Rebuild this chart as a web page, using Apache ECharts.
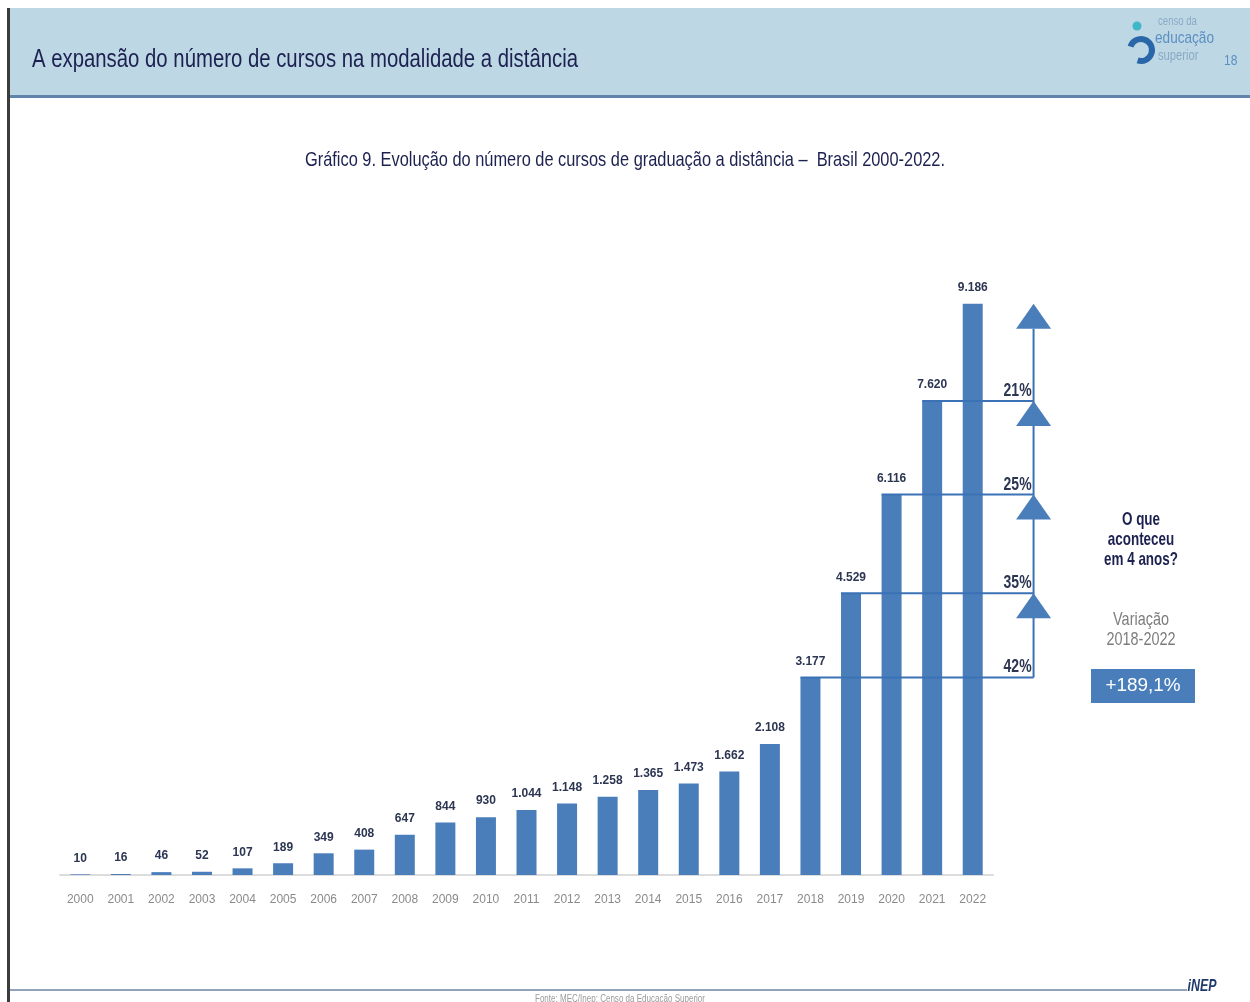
<!DOCTYPE html>
<html>
<head>
<meta charset="utf-8">
<script src="https://cdn.jsdelivr.net/npm/echarts@6/dist/echarts.min.js"></script>
<style>
html,body{margin:0;padding:0;background:#fff;}
#c{width:1250px;height:1002px;}
</style>
</head>
<body>
<div id="c"></div>
<script>
const years = ['2000','2001','2002','2003','2004','2005','2006','2007','2008','2009','2010','2011','2012','2013','2014','2015','2016','2017','2018','2019','2020','2021','2022'];
const courses = [10,16,46,52,107,189,349,408,647,844,930,1044,1148,1258,1365,1473,1662,2108,3177,4529,6116,7620,9186];
const growthStartIndex = 18;
const growthLabels = ['42%','35%','25%','21%'];
const headerTitle = 'A expansão do número de cursos na modalidade a distância';
const chartTitle = 'Gráfico 9. Evolução do número de cursos de graduação a distância –  Brasil 2000-2022.';
const sideQuestion = 'O que\naconteceu\nem 4 anos?';
const sideVariation = 'Variação\n2018-2022';
const sideValue = '+189,1%';
const sourceText = 'Fonte: MEC/Inep; Censo da Educação Superior';

const SANS = "'Liberation Sans',Arial,sans-serif";
const BLUE = '#4a7ebb';
const LINEBLUE = '#3b72b6';
const NAVY = '#1c2150';
const fmt = v => String(v).replace(/\B(?=(\d{3})+(?!\d))/g, '.');

// measure helper to emulate the condensed face of the original
const mctx = document.createElement('canvas').getContext('2d');
function squeeze(text, font, target) {
  mctx.font = font;
  return target / mctx.measureText(text).width;
}

const chart = echarts.init(document.getElementById('c'), null, {renderer: 'canvas'});

const fHead = '26px ' + SANS;
const fTitle = '21px ' + SANS;
const fQ = 'bold 19px ' + SANS;
const fVar = '19px ' + SANS;
const fPct = 'bold 18px ' + SANS;
const fVal = '19px ' + SANS;
const fInep = 'italic bold 17px ' + SANS;
const fSrc = '10px ' + SANS;

const staticGraphics = [
  {type:'rect', shape:{x:8, y:8, width:1242, height:88}, style:{fill:'#bdd7e5'}, z:0},
  {type:'rect', shape:{x:8, y:95, width:1242, height:3}, style:{fill:'#5f83aa'}, z:1},
  {type:'rect', shape:{x:7, y:8, width:3, height:994}, style:{fill:'#3c3c3c'}, z:2},
  {type:'text', x:32, y:60, scaleX:squeeze(headerTitle, fHead, 546), style:{text:headerTitle, font:fHead, fill:NAVY, textVerticalAlign:'middle'}, z:3},
  // logo
  {type:'circle', shape:{cx:1137, cy:26, r:4.5}, style:{fill:'#3fb7c6'}, z:3},
  {type:'arc', shape:{cx:1141, cy:50, r:11, startAngle:-Math.PI*0.9, endAngle:Math.PI*0.6}, style:{stroke:'#2a67a8', lineWidth:6, fill:null}, z:3},
  {type:'text', x:1158, y:22, scaleX:0.8, style:{text:'censo da', font:'12px ' + SANS, fill:'#8aa9c4', textVerticalAlign:'middle'}, z:3},
  {type:'text', x:1155, y:38, scaleX:0.8, style:{text:'educação', font:'17px ' + SANS, fill:'#5d8fc2', textVerticalAlign:'middle'}, z:3},
  {type:'text', x:1158, y:56, scaleX:0.8, style:{text:'superior', font:'14px ' + SANS, fill:'#8aa9c4', textVerticalAlign:'middle'}, z:3},
  {type:'text', x:1224, y:61, scaleX:0.8, style:{text:'18', font:'15px ' + SANS, fill:'#5d8fc2', textVerticalAlign:'middle'}, z:3},
  // chart title
  {type:'text', x:625, y:160, scaleX:squeeze(chartTitle, fTitle, 640), style:{text:chartTitle, font:fTitle, fill:NAVY, textAlign:'center', textVerticalAlign:'middle'}, z:3},
  // right text block
  {type:'text', x:1141, y:540, scaleX:squeeze('em 4 anos?', fQ, 74), style:{text:sideQuestion, font:fQ, fill:NAVY, textAlign:'center', textVerticalAlign:'middle', lineHeight:20}, z:3},
  {type:'text', x:1141, y:630, scaleX:squeeze('2018-2022', fVar, 69), style:{text:sideVariation, font:fVar, fill:'#7d7d7d', textAlign:'center', textVerticalAlign:'middle', lineHeight:20}, z:3},
  {type:'rect', shape:{x:1091, y:669, width:104, height:34}, style:{fill:BLUE}, z:3},
  {type:'text', x:1143, y:686, scaleX:squeeze(sideValue, fVal, 75), style:{text:sideValue, font:fVal, fill:'#ffffff', textAlign:'center', textVerticalAlign:'middle'}, z:4},
  // footer
  {type:'rect', shape:{x:10, y:989, width:1177, height:2}, style:{fill:'#8fa3bb'}, z:2},
  {type:'text', x:620, y:999, scaleX:squeeze(sourceText, fSrc, 170), style:{text:sourceText, font:fSrc, fill:'#9a9a9a', textAlign:'center', textVerticalAlign:'middle'}, z:3},
  {type:'text', x:1202, y:986, scaleX:squeeze('iNEP', fInep, 29), style:{text:'iNEP', font:fInep, fill:'#1f3a6a', textAlign:'center', textVerticalAlign:'middle'}, z:3}
];

chart.setOption({
  animation: false,
  backgroundColor: '#ffffff',
  grid: {left: 60, right: 257, top: 253, bottom: 127, containLabel: false},
  xAxis: {
    type: 'category',
    data: years,
    axisLine: {show: true, lineStyle: {color: '#dcdcdc', width: 2}},
    axisTick: {show: false},
    axisLabel: {color: '#8a8a8a', fontFamily: SANS, fontSize: 12, margin: 19}
  },
  yAxis: {type: 'value', min: 0, max: 10000, show: false, splitLine: {show: false}},
  series: [{
    type: 'bar',
    data: courses,
    barWidth: 20,
    itemStyle: {color: BLUE},
    label: {
      show: true, position: 'top', distance: 10,
      formatter: p => fmt(p.value),
      color: '#2c3652', fontFamily: SANS, fontWeight: 'bold', fontSize: 12
    },
    z: 2
  }],
  graphic: staticGraphics
});

// annotation built from the chart's own scales
const px = (i, v) => chart.convertToPixel({gridIndex: 0}, [years[i], v]);
const band = px(1, 0)[0] - px(0, 0)[0];
const vx = px(years.length - 1, 0)[0] + 1.5 * band;
const halfBar = 10;
const ann = [];
const last = years.length - 1;
const yStart = px(growthStartIndex, courses[growthStartIndex])[1];
const yTop = px(last, courses[last])[1];
const pctScale = squeeze('21%', fPct, 28);
ann.push({type:'line', shape:{x1:vx, y1:yStart, x2:vx, y2:yTop + 25}, style:{stroke:LINEBLUE, lineWidth:2}, z:50});
for (let k = 0; k < growthLabels.length; k++) {
  const i = growthStartIndex + k;
  const p = px(i, courses[i]);
  ann.push({type:'line', shape:{x1:p[0] - halfBar, y1:p[1], x2:vx, y2:p[1]}, style:{stroke:LINEBLUE, lineWidth:2}, z:50});
  ann.push({type:'text', x:vx - 2, y:p[1] - 1, scaleX:pctScale, style:{text:growthLabels[k], font:fPct, fill:'#2c3652', textAlign:'right', textVerticalAlign:'bottom'}, z:51});
  const a = px(i + 1, courses[i + 1]);
  ann.push({type:'polygon', shape:{points:[[vx, a[1]], [vx - 17.5, a[1] + 25], [vx + 17.5, a[1] + 25]]}, style:{fill:BLUE}, z:52});
}
chart.setOption({graphic: staticGraphics.concat(ann)});
</script>
</body>
</html>
